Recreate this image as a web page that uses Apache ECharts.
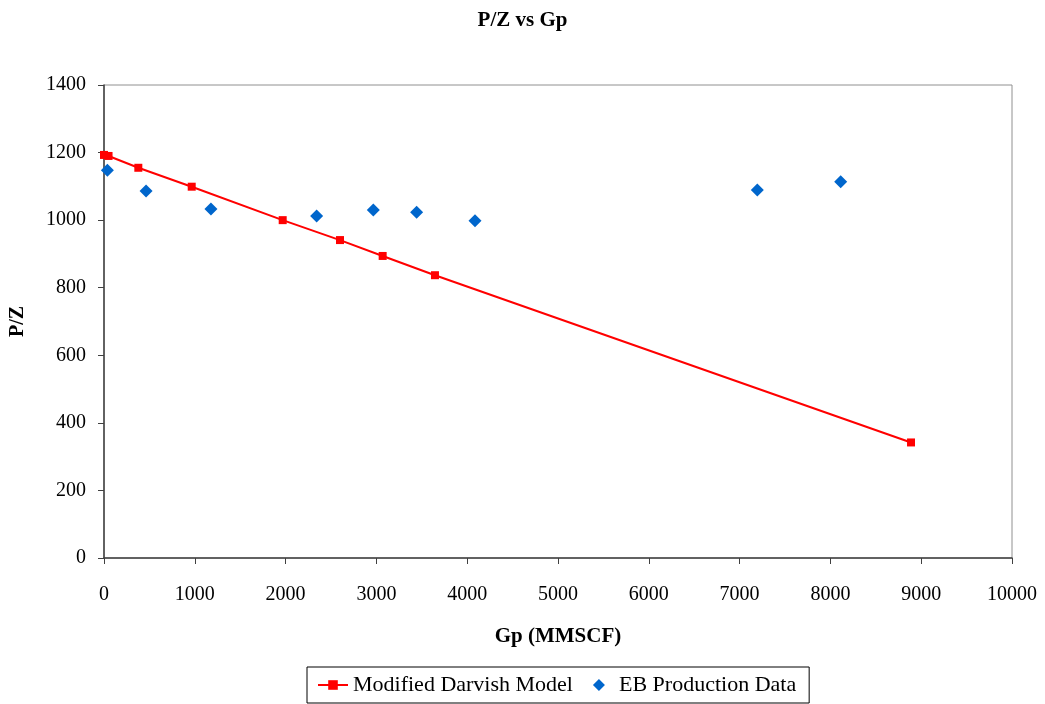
<!DOCTYPE html>
<html>
<head>
<meta charset="utf-8">
<script src="https://cdn.jsdelivr.net/npm/echarts@6/dist/echarts.min.js"></script>
<style>html,body{margin:0;padding:0;background:#fff}#c{width:1045px;height:704px}</style>
</head>
<body>
<div id="c"></div>
<script>
const modelGp = [0, 50, 378, 966, 1968, 2599, 3069, 3645, 8888];
const modelPZ = [1193, 1190, 1155, 1099, 1000, 941, 894, 837, 342];
const prodGp = [37, 463, 1178, 2342, 2966, 3443, 4086, 7195, 8113];
const prodPZ = [1148, 1086, 1033, 1012, 1030, 1023, 998, 1089, 1114];
const seriesNames = ['Modified Darvish Model', 'EB Production Data'];

const font = 'Liberation Serif, Times New Roman, serif';
const chart = echarts.init(document.getElementById('c'), null, {renderer: 'canvas'});
chart.setOption({
  animation: false,
  backgroundColor: '#fff',
  title: {
    text: 'P/Z vs Gp', left: 'center', top: 5,
    textStyle: {fontFamily: font, fontSize: 21, fontWeight: 'bold', color: '#000'}
  },
  legend: {
    bottom: 1, left: 307,
    data: [
      {name: seriesNames[0]},
      {name: seriesNames[1], icon: 'path://M0,0 M30,12 M15,0 L21,6 L15,12 L9,6 Z'}
    ],
    borderColor: '#000', borderWidth: 1, borderRadius: 0,
    padding: [7, 13, 7, 10],
    itemGap: 11, itemWidth: 30, itemHeight: 12,
    textStyle: {fontFamily: font, fontSize: 22, color: '#000'}
  },
  grid: {left: 104, right: 33, top: 85, bottom: 146, show: true, borderColor: '#909090', borderWidth: 1,
    outerBoundsMode: 'none', containLabel: false},
  xAxis: {
    type: 'value', min: 0, max: 10000, interval: 1000,
    name: 'Gp (MMSCF)', nameLocation: 'middle', nameGap: 68,
    nameTextStyle: {fontFamily: font, fontSize: 21, fontWeight: 'bold', color: '#000'},
    axisLine: {show: true, lineStyle: {color: '#404040', width: 1.5}},
    axisTick: {show: true, length: 6, lineStyle: {color: '#404040'}},
    axisLabel: {fontFamily: font, fontSize: 20, color: '#000', margin: 27,
      formatter: v => String(v)},
    splitLine: {show: false}
  },
  yAxis: {
    type: 'value', min: 0, max: 1400, interval: 200,
    name: 'P/Z', nameLocation: 'middle', nameGap: 76,
    nameTextStyle: {fontFamily: font, fontSize: 20, fontWeight: 'bold', color: '#000'},
    axisLine: {show: true, lineStyle: {color: '#404040', width: 1.5}},
    axisTick: {show: true, length: 6, lineStyle: {color: '#404040'}},
    axisLabel: {fontFamily: font, fontSize: 20, color: '#000', margin: 18,
      formatter: v => String(v)},
    splitLine: {show: false}
  },
  series: [
    {
      name: seriesNames[0], type: 'line',
      data: modelGp.map((g, i) => [g, modelPZ[i]]),
      symbol: 'rect', symbolSize: 8, showAllSymbol: true,
      lineStyle: {color: '#FF0000', width: 2},
      itemStyle: {color: '#FF0000'},
      z: 2
    },
    {
      name: seriesNames[1], type: 'scatter',
      data: prodGp.map((g, i) => [g, prodPZ[i]]),
      symbol: 'diamond', symbolSize: 13,
      itemStyle: {color: '#0066CC', opacity: 1},
      z: 3
    }
  ]
});
</script>
</body>
</html>
